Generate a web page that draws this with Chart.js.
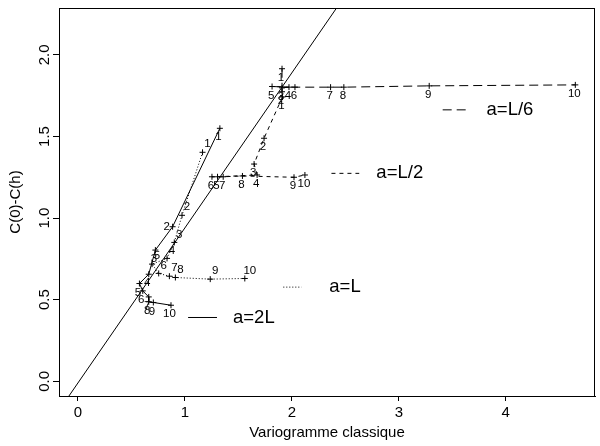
<!DOCTYPE html>
<html>
<head>
<meta charset="utf-8">
<script src="https://cdn.jsdelivr.net/npm/chart.js@4.4.1/dist/chart.umd.min.js"></script>
<style>
  html, body { margin: 0; padding: 0; background: #fff; }
  #wrap { width: 600px; height: 446px; }
</style>
</head>
<body>
<div id="wrap"><canvas id="chart"></canvas></div>
<script>
// lag numbers printed next to each point
const lags = ['1', '2', '3', '4', '5', '6', '7', '8', '9', '10'];

// a=2L
const x2L = [1.327, 0.885, 0.724, 0.662, 0.575, 0.606, 0.662, 0.662, 0.705, 0.870];
const y2L = [1.550, 0.947, 0.804, 0.656, 0.599, 0.554, 0.517, 0.487, 0.483, 0.466];
// a=L
const xL = [1.165, 0.973, 0.901, 0.833, 0.693, 0.755, 0.855, 0.911, 1.237, 1.560];
const yL = [1.403, 1.017, 0.851, 0.753, 0.718, 0.661, 0.644, 0.636, 0.626, 0.630];
// a=L/2
const xL2 = [1.912, 1.740, 1.647, 1.675, 1.305, 1.253, 1.358, 1.538, 2.020, 2.122];
const yL2 = [1.742, 1.489, 1.331, 1.264, 1.253, 1.253, 1.253, 1.258, 1.250, 1.264];
// a=L/6
const xL6 = [1.908, 1.908, 1.908, 1.973, 1.815, 2.029, 2.362, 2.486, 3.284, 4.650];
const yL6 = [1.915, 1.774, 1.798, 1.802, 1.806, 1.802, 1.802, 1.802, 1.810, 1.816];

// reference line
const refX = [-0.3, 2.7];
const refY = [-0.295, 2.555];

const xTicks = [0, 1, 2, 3, 4];
const yTicks = [0, 0.5, 1, 1.5, 2];
const yTickLabels = ['0.0', '0.5', '1.0', '1.5', '2.0'];

const pts = (xs, ys) => xs.map((v, i) => ({ x: v, y: ys[i] }));

const FONT = '"Liberation Sans", Arial, Helvetica, sans-serif';

// legend keys, placed in data units
const keys = [
  { text: 'a=L/6', x0: 3.41, x1: 3.65, tx: 3.82, y: 1.663, dash: [9, 5] },
  { text: 'a=L/2', x0: 2.37, x1: 2.63, tx: 2.79, y: 1.274, dash: [4, 4] },
  { text: 'a=L',   x0: 1.92, x1: 2.09, tx: 2.35, y: 0.577, dash: [1, 2] },
  { text: 'a=2L',  x0: 1.03, x1: 1.30, tx: 1.45, y: 0.391, dash: [] }
];

const series = (data, dash, dy, dx, shift) => ({
  data, showLine: true, borderColor: '#000', borderWidth: 1, borderDash: dash,
  pointStyle: 'cross', pointRadius: 3, pointBorderWidth: 1, pointBorderColor: '#000',
  labelDx: dx, labelDy: dy, labelShift: shift || {}
});

const annotate = {
  id: 'annotate',
  afterDatasetsDraw(chart) {
    const { ctx, chartArea: a, scales: { x, y } } = chart;
    ctx.save();
    ctx.strokeStyle = '#000';
    ctx.lineWidth = 1;
    ctx.strokeRect(Math.round(a.left) + 0.5, Math.round(a.top) + 0.5,
      Math.round(a.right - a.left) - 1, Math.round(a.bottom - a.top));

    // lag labels
    ctx.fillStyle = '#000';
    ctx.font = '11.5px ' + FONT;
    ctx.textAlign = 'center';
    ctx.textBaseline = 'middle';
    chart.data.datasets.forEach((ds, di) => {
      if (ds.labelDy === undefined) return;
      chart.getDatasetMeta(di).data.forEach((p, i) => {
        const s = ds.labelShift[i] || [ds.labelDx, ds.labelDy];
        ctx.fillText(lags[i], p.x + s[0], p.y + s[1]);
      });
    });

    // legend keys
    ctx.font = '18.5px ' + FONT;
    ctx.textAlign = 'left';
    keys.forEach(k => {
      const py = y.getPixelForValue(k.y);
      ctx.setLineDash(k.dash);
      ctx.beginPath();
      ctx.moveTo(x.getPixelForValue(k.x0), py);
      ctx.lineTo(x.getPixelForValue(k.x1), py);
      ctx.stroke();
      ctx.setLineDash([]);
      ctx.fillText(k.text, x.getPixelForValue(k.tx), py);
    });

    // y tick labels, rotated like the axis title
    ctx.font = '15px ' + FONT;
    ctx.textAlign = 'center';
    yTicks.forEach((v, i) => {
      ctx.save();
      ctx.translate(45, y.getPixelForValue(v));
      ctx.rotate(-Math.PI / 2);
      ctx.fillText(yTickLabels[i], 0, 0);
      ctx.restore();
    });

    // axis titles
    ctx.save();
    ctx.translate(16, (a.top + a.bottom) / 2);
    ctx.rotate(-Math.PI / 2);
    ctx.fillText('C(0)-C(h)', 0, 0);
    ctx.restore();
    ctx.fillText('Variogramme classique', (a.left + a.right) / 2, 433);
    ctx.restore();
  }
};

new Chart(document.getElementById('chart'), {
  type: 'scatter',
  data: {
    datasets: [
      { data: pts(refX, refY), showLine: true, borderColor: '#000', borderWidth: 1, pointRadius: 0 },
      series(pts(x2L, y2L), [], 9, -1.5, { 1: [-6, 0] }),
      series(pts(xL, yL), [1, 2], -8, 5),
      series(pts(xL2, yL2), [4, 4], 9, -1),
      series(pts(xL6, yL6), [9, 5], 9, -1)
    ]
  },
  options: {
    responsive: true,
    maintainAspectRatio: false,
    animation: false,
    layout: { padding: { top: 8, right: 3, left: 0, bottom: 0 } },
    plugins: { legend: { display: false }, tooltip: { enabled: false } },
    scales: {
      x: {
        type: 'linear', min: -0.177, max: 4.834,
        afterBuildTicks: s => { s.ticks = xTicks.map(v => ({ value: v })); },
        afterFit: s => { s.height = 50; },
        grid: { drawOnChartArea: false, drawTicks: true, tickLength: 5, color: '#000' },
        border: { display: true, color: '#000' },
        ticks: { color: '#000', font: { size: 15, family: FONT }, padding: 3, maxRotation: 0 }
      },
      y: {
        type: 'linear', min: -0.09, max: 2.287,
        afterBuildTicks: s => { s.ticks = yTicks.map(v => ({ value: v })); },
        afterFit: s => { s.width = 59; },
        grid: { drawOnChartArea: false, drawTicks: true, tickLength: 6, color: '#000' },
        border: { display: true, color: '#000' },
        ticks: { display: false }
      }
    }
  },
  plugins: [annotate]
});
</script>
</body>
</html>
